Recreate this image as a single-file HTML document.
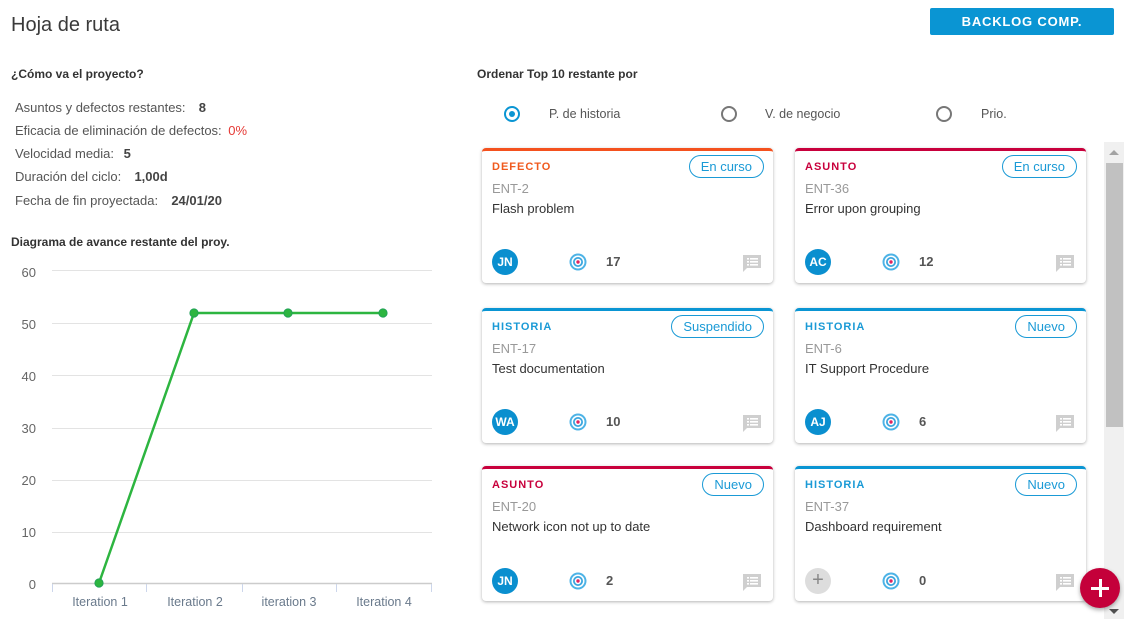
<!DOCTYPE html>
<html><head><meta charset="utf-8"><style>
*{margin:0;padding:0;box-sizing:border-box}
body{width:1132px;height:619px;background:#fff;font-family:"Liberation Sans",Arial,sans-serif;position:relative;overflow:hidden;color:#333}
.a{position:absolute;white-space:nowrap}
.h1{left:11px;top:14px;font-size:20px;color:#3a3a3a}
.btn{left:930px;top:8px;width:184px;height:27px;background:#0a95d3;border-radius:2px;color:#fff;font-size:13px;font-weight:bold;letter-spacing:0.8px;text-align:center;line-height:27px}
.sub{font-size:12px;font-weight:bold;color:#333}
.it{left:15px;font-size:13px;color:#555}
.it b{color:#444;margin-left:6px}
.radio{width:16px;height:16px;border:2px solid #777;border-radius:50%}
.radio.on{border-color:#0a95d3}
.radio.on:after{content:"";position:absolute;left:3px;top:3px;width:6px;height:6px;border-radius:50%;background:#0a95d3}
.rl{font-size:12.5px;color:#555}
.card{position:absolute;width:291px;height:135px;background:#fff;border-radius:4px;box-shadow:0 1px 3px rgba(0,0,0,0.3);border-top:3px solid #0a95d3;overflow:visible}
.lab{position:absolute;left:10px;top:10px;font-size:11px;font-weight:bold;letter-spacing:1px}
.pill{position:absolute;right:9px;top:4px;height:23px;border:1px solid #1a9ad6;border-radius:12px;color:#1a9ad6;font-size:13px;line-height:21px;padding:0 11px}
.ent{position:absolute;left:10px;top:30px;font-size:13px;color:#999}
.tt{position:absolute;left:10px;top:50px;font-size:13px;color:#333}
.av{position:absolute;left:10px;top:98px;width:26px;height:26px;border-radius:50%;background:#0a8fcf;color:#fff;font-size:12px;font-weight:bold;text-align:center;line-height:26px}
.av.g{background:#ddd;color:#888;font-size:20px;font-weight:normal;line-height:25px}
.tg{position:absolute;left:87px;top:102px}
.num{position:absolute;left:124px;top:103px;font-size:13px;font-weight:bold;color:#555}
.cm{position:absolute;left:261px;top:103px}
.defecto{border-top-color:#f4511e}.defecto .lab{color:#f05a1e}
.asunto{border-top-color:#c8003c}.asunto .lab{color:#c8003c}
.historia .lab{color:#1a9ad6}
</style></head><body>
<div class="a h1">Hoja de ruta</div>
<div class="a btn">BACKLOG COMP.</div>

<div class="a sub" style="left:11px;top:67px">¿Cómo va el proyecto?</div>
<div class="a it" style="top:100px">Asuntos y defectos restantes: <b>&nbsp;8</b></div>
<div class="a it" style="top:123px">Eficacia de eliminación de defectos: <span style="color:#e53935;margin-left:3px">0%</span></div>
<div class="a it" style="top:146px">Velocidad media: <b>5</b></div>
<div class="a it" style="top:169px">Duración del ciclo: <b>&nbsp;1,00d</b></div>
<div class="a it" style="top:193px">Fecha de fin proyectada: <b>&nbsp;24/01/20</b></div>
<div class="a sub" style="left:11px;top:235px">Diagrama de avance restante del proy.</div>

<svg class="a" style="left:0;top:250px" width="450" height="369" viewBox="0 250 450 369">
<g stroke="#e3e3e3" stroke-width="1">
<line x1="52" y1="270.5" x2="432" y2="270.5"/>
<line x1="52" y1="323.5" x2="432" y2="323.5"/>
<line x1="52" y1="375.5" x2="432" y2="375.5"/>
<line x1="52" y1="428.5" x2="432" y2="428.5"/>
<line x1="52" y1="480.5" x2="432" y2="480.5"/>
<line x1="52" y1="532.5" x2="432" y2="532.5"/>
</g>
<line x1="52" y1="583.5" x2="432" y2="583.5" stroke="#ccc" stroke-width="1.5"/>
<g stroke="#ccd6eb" stroke-width="1">
<line x1="52.5" y1="584" x2="52.5" y2="592"/>
<line x1="146.5" y1="584" x2="146.5" y2="592"/>
<line x1="242.5" y1="584" x2="242.5" y2="592"/>
<line x1="336.5" y1="584" x2="336.5" y2="592"/>
<line x1="431.5" y1="584" x2="431.5" y2="592"/>
</g>
<g font-family="Liberation Sans, Arial, sans-serif" font-size="13" fill="#666" text-anchor="end">
<text x="36" y="277">60</text>
<text x="36" y="329">50</text>
<text x="36" y="381">40</text>
<text x="36" y="433">30</text>
<text x="36" y="485">20</text>
<text x="36" y="537">10</text>
<text x="36" y="589">0</text>
</g>
<g font-family="Liberation Sans, Arial, sans-serif" font-size="12.5" fill="#6a7a8c" text-anchor="middle">
<text x="100" y="606">Iteration 1</text>
<text x="195" y="606">Iteration 2</text>
<text x="289" y="606">iteration 3</text>
<text x="384" y="606">Iteration 4</text>
</g>
<polyline points="99,583 194,313 288,313 383,313" fill="none" stroke="#2db540" stroke-width="2.5"/>
<g fill="#2db540" stroke="#1e9e5a" stroke-width="0.8">
<circle cx="99" cy="583" r="4.2"/><circle cx="194" cy="313" r="4.2"/><circle cx="288" cy="313" r="4.2"/><circle cx="383" cy="313" r="4.2"/>
</g>
</svg>

<div class="a sub" style="left:477px;top:67px">Ordenar Top 10 restante por</div>
<div class="a radio on" style="left:504px;top:106px"></div>
<div class="a rl" style="left:549px;top:107px">P. de historia</div>
<div class="a radio" style="left:721px;top:106px"></div>
<div class="a rl" style="left:765px;top:107px">V. de negocio</div>
<div class="a radio" style="left:936px;top:106px"></div>
<div class="a rl" style="left:981px;top:107px">Prio.</div>

<!-- scrollbar -->
<div class="a" style="left:1104px;top:142px;width:20px;height:477px;background:#f0f0f0"></div>
<div class="a" style="left:1106px;top:163px;width:17px;height:264px;background:#c1c1c1"></div>
<div class="a" style="left:1109px;top:150px;width:0;height:0;border-left:5px solid transparent;border-right:5px solid transparent;border-bottom:5px solid #a3a3a3"></div>
<div class="a" style="left:1109px;top:609px;width:0;height:0;border-left:5px solid transparent;border-right:5px solid transparent;border-top:5px solid #505050"></div>

<!-- cards -->
<div class="card defecto" style="left:482px;top:148px">
<div class="lab">DEFECTO</div><div class="pill">En curso</div>
<div class="ent">ENT-2</div><div class="tt">Flash problem</div>
<div class="av">JN</div>
<svg class="tg" width="18" height="18"><circle cx="9" cy="9" r="8.5" fill="#4db3e6"/><circle cx="9" cy="9" r="6.5" fill="#fff"/><circle cx="9" cy="9" r="5" fill="#3ba6de"/><circle cx="9" cy="9" r="3.2" fill="#fff"/><circle cx="9" cy="9" r="1.7" fill="#e0245e"/></svg>
<div class="num">17</div>
<svg class="cm" width="20" height="20"><path d="M0 1h18v13H4l-4 4z" fill="#cfcfcf"/><g fill="#fff"><rect x="4" y="4" width="2" height="1.6"/><rect x="7" y="4" width="8" height="1.6"/><rect x="4" y="7" width="2" height="1.6"/><rect x="7" y="7" width="8" height="1.6"/><rect x="4" y="10" width="2" height="1.6"/><rect x="7" y="10" width="8" height="1.6"/></g></svg>
</div>

<div class="card asunto" style="left:795px;top:148px">
<div class="lab">ASUNTO</div><div class="pill">En curso</div>
<div class="ent">ENT-36</div><div class="tt">Error upon grouping</div>
<div class="av">AC</div>
<svg class="tg" width="18" height="18"><circle cx="9" cy="9" r="8.5" fill="#4db3e6"/><circle cx="9" cy="9" r="6.5" fill="#fff"/><circle cx="9" cy="9" r="5" fill="#3ba6de"/><circle cx="9" cy="9" r="3.2" fill="#fff"/><circle cx="9" cy="9" r="1.7" fill="#e0245e"/></svg>
<div class="num">12</div>
<svg class="cm" width="20" height="20"><path d="M0 1h18v13H4l-4 4z" fill="#cfcfcf"/><g fill="#fff"><rect x="4" y="4" width="2" height="1.6"/><rect x="7" y="4" width="8" height="1.6"/><rect x="4" y="7" width="2" height="1.6"/><rect x="7" y="7" width="8" height="1.6"/><rect x="4" y="10" width="2" height="1.6"/><rect x="7" y="10" width="8" height="1.6"/></g></svg>
</div>

<div class="card historia" style="left:482px;top:308px">
<div class="lab">HISTORIA</div><div class="pill">Suspendido</div>
<div class="ent">ENT-17</div><div class="tt">Test documentation</div>
<div class="av">WA</div>
<svg class="tg" width="18" height="18"><circle cx="9" cy="9" r="8.5" fill="#4db3e6"/><circle cx="9" cy="9" r="6.5" fill="#fff"/><circle cx="9" cy="9" r="5" fill="#3ba6de"/><circle cx="9" cy="9" r="3.2" fill="#fff"/><circle cx="9" cy="9" r="1.7" fill="#e0245e"/></svg>
<div class="num">10</div>
<svg class="cm" width="20" height="20"><path d="M0 1h18v13H4l-4 4z" fill="#cfcfcf"/><g fill="#fff"><rect x="4" y="4" width="2" height="1.6"/><rect x="7" y="4" width="8" height="1.6"/><rect x="4" y="7" width="2" height="1.6"/><rect x="7" y="7" width="8" height="1.6"/><rect x="4" y="10" width="2" height="1.6"/><rect x="7" y="10" width="8" height="1.6"/></g></svg>
</div>

<div class="card historia" style="left:795px;top:308px">
<div class="lab">HISTORIA</div><div class="pill">Nuevo</div>
<div class="ent">ENT-6</div><div class="tt">IT Support Procedure</div>
<div class="av">AJ</div>
<svg class="tg" width="18" height="18"><circle cx="9" cy="9" r="8.5" fill="#4db3e6"/><circle cx="9" cy="9" r="6.5" fill="#fff"/><circle cx="9" cy="9" r="5" fill="#3ba6de"/><circle cx="9" cy="9" r="3.2" fill="#fff"/><circle cx="9" cy="9" r="1.7" fill="#e0245e"/></svg>
<div class="num">6</div>
<svg class="cm" width="20" height="20"><path d="M0 1h18v13H4l-4 4z" fill="#cfcfcf"/><g fill="#fff"><rect x="4" y="4" width="2" height="1.6"/><rect x="7" y="4" width="8" height="1.6"/><rect x="4" y="7" width="2" height="1.6"/><rect x="7" y="7" width="8" height="1.6"/><rect x="4" y="10" width="2" height="1.6"/><rect x="7" y="10" width="8" height="1.6"/></g></svg>
</div>

<div class="card asunto" style="left:482px;top:466px">
<div class="lab">ASUNTO</div><div class="pill">Nuevo</div>
<div class="ent">ENT-20</div><div class="tt">Network icon not up to date</div>
<div class="av" style="top:99px">JN</div>
<svg class="tg" width="18" height="18" style="top:103px"><circle cx="9" cy="9" r="8.5" fill="#4db3e6"/><circle cx="9" cy="9" r="6.5" fill="#fff"/><circle cx="9" cy="9" r="5" fill="#3ba6de"/><circle cx="9" cy="9" r="3.2" fill="#fff"/><circle cx="9" cy="9" r="1.7" fill="#e0245e"/></svg>
<div class="num" style="top:104px">2</div>
<svg class="cm" width="20" height="20" style="top:104px"><path d="M0 1h18v13H4l-4 4z" fill="#cfcfcf"/><g fill="#fff"><rect x="4" y="4" width="2" height="1.6"/><rect x="7" y="4" width="8" height="1.6"/><rect x="4" y="7" width="2" height="1.6"/><rect x="7" y="7" width="8" height="1.6"/><rect x="4" y="10" width="2" height="1.6"/><rect x="7" y="10" width="8" height="1.6"/></g></svg>
</div>

<div class="card historia" style="left:795px;top:466px">
<div class="lab">HISTORIA</div><div class="pill">Nuevo</div>
<div class="ent">ENT-37</div><div class="tt">Dashboard requirement</div>
<div class="av g" style="top:99px">+</div>
<svg class="tg" width="18" height="18" style="top:103px"><circle cx="9" cy="9" r="8.5" fill="#4db3e6"/><circle cx="9" cy="9" r="6.5" fill="#fff"/><circle cx="9" cy="9" r="5" fill="#3ba6de"/><circle cx="9" cy="9" r="3.2" fill="#fff"/><circle cx="9" cy="9" r="1.7" fill="#e0245e"/></svg>
<div class="num" style="top:104px">0</div>
<svg class="cm" width="20" height="20" style="top:104px"><path d="M0 1h18v13H4l-4 4z" fill="#cfcfcf"/><g fill="#fff"><rect x="4" y="4" width="2" height="1.6"/><rect x="7" y="4" width="8" height="1.6"/><rect x="4" y="7" width="2" height="1.6"/><rect x="7" y="7" width="8" height="1.6"/><rect x="4" y="10" width="2" height="1.6"/><rect x="7" y="10" width="8" height="1.6"/></g></svg>
</div>

<!-- fab -->
<div class="a" style="left:1080px;top:568px;width:40px;height:40px;border-radius:50%;background:#c4003a;box-shadow:0 2px 4px rgba(0,0,0,0.35)">
<div style="position:absolute;left:11px;top:18.5px;width:18px;height:3px;background:#fff"></div>
<div style="position:absolute;left:18.5px;top:11px;width:3px;height:18px;background:#fff"></div>
</div>
</body></html>
